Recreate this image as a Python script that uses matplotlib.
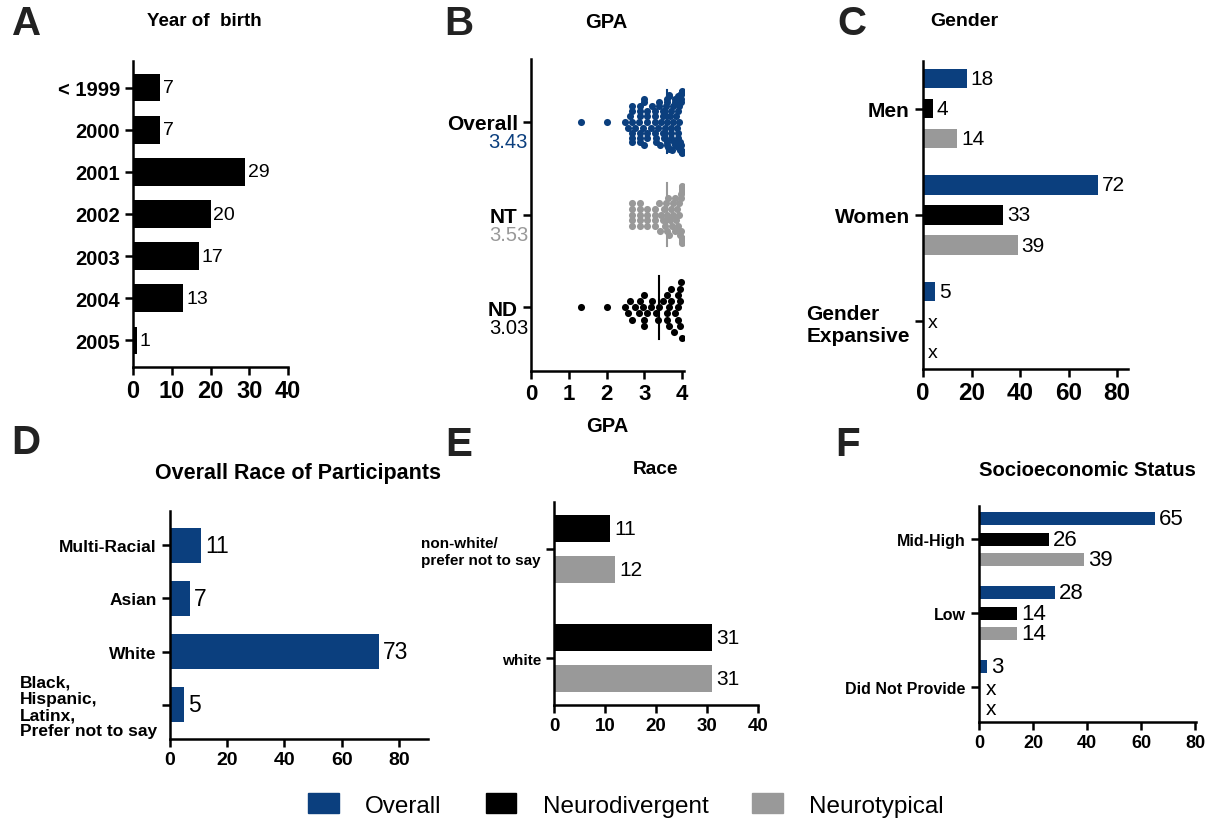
import numpy as np
import matplotlib.pyplot as plt
from matplotlib.patches import Patch

plt.rcParams['font.family'] = ['Liberation Sans', 'DejaVu Sans']

W, H = 1207, 820
BLUE = '#0b3f7e'
GREY = '#999999'
BLACK = '#000000'

# A - year of birth
birth_years = ['< 1999', '2000', '2001', '2002', '2003', '2004', '2005']
birth_counts = [7, 7, 29, 20, 17, 13, 1]

# B - GPA
gpa_groups = ['Overall', 'NT', 'ND']
gpa_means = ['3.43', '3.53', '3.03']
gpa_nd = [3.64, 3.97, 3.0, 3.64, 3.81, 3.99, 2.62, 3.0, 3.3, 3.6, 3.88,
          1.32, 2.0, 2.49, 2.67, 2.87, 3.08, 3.5, 3.71, 3.95,
          2.89, 3.2, 3.37, 3.6, 3.88, 2.56, 2.75, 2.96, 3.17, 3.4, 3.6,
          3.79, 3.95, 3.0, 3.9, 3.71, 3.95]
gpa_nt = [2.67, 2.67, 2.67, 2.67, 2.67, 2.89, 2.89, 2.89, 2.89, 2.89,
          3.08, 3.08, 3.08, 3.08, 3.28, 3.28, 3.28, 3.28,
          3.38, 3.42, 3.45, 3.5, 3.52, 3.55, 3.58, 3.6, 3.61,
          3.63, 3.65, 3.67, 3.7, 3.72, 3.75, 3.77, 3.8, 3.82, 3.85, 3.87, 3.9, 3.92,
          3.93, 3.95, 3.96, 3.97, 3.98, 3.99, 4.0, 4.0, 4.0, 4.0, 4.0, 4.0, 4.0]
gpa_other = [3.3, 3.5, 3.7, 3.9, 4.0]
gpa_overall = gpa_nd + gpa_nt + gpa_other

# C - gender
gender_cats = ['Men', 'Women', 'Gender\nExpansive']
gender_overall = [18, 72, 5]
gender_nd = [4, 33, None]
gender_nt = [14, 39, None]

# D - overall race
race_cats = ['Multi-Racial', 'Asian', 'White', 'Black,\nHispanic,\nLatinx,\nPrefer not to say']
race_counts = [11, 7, 73, 5]

# E - race by group
race2_cats = ['non-white/\nprefer not to say', 'white']
race2_nd = [11, 31]
race2_nt = [12, 31]

# F - socioeconomic status
ses_cats = ['Mid-High', 'Low', 'Did Not Provide']
ses_overall = [65, 28, 3]
ses_nd = [26, 14, None]
ses_nt = [39, 14, None]


fig = plt.figure(figsize=(W / 100, H / 100), dpi=100)


def axes_px(l, t, r, b):
    return fig.add_axes([l / W, 1 - b / H, (r - l) / W, (b - t) / H])


def ftext(x, y, s, **kw):
    fig.text(x / W, 1 - y / H, s, ha='center', va='center', **kw)


def style(ax, xticks, xfs, yfs, lw=1.8):
    for s in ['top', 'right']:
        ax.spines[s].set_visible(False)
    for s in ['left', 'bottom']:
        ax.spines[s].set_linewidth(lw)
    ax.tick_params(axis='both', direction='out', length=6, width=lw)
    ax.tick_params(axis='x', pad=3)
    ax.set_xticks(xticks, [str(t) for t in xticks], fontweight='bold', fontsize=xfs)
    for lab in ax.get_yticklabels():
        lab.set_fontweight('bold')
        lab.set_fontsize(yfs)


def grouped(ax, series, colors, step, height, fs, pad, xpad):
    n = len(series)
    for j, (vals, col) in enumerate(zip(series, colors)):
        off = (j - (n - 1) / 2) * step
        for i, v in enumerate(vals):
            y = i + off
            if v is None:
                ax.annotate('x', (0, y), xytext=(xpad, -1), textcoords='offset pixels',
                            ha='center', va='center', fontsize=fs - 1)
            else:
                ax.barh(y, v, height=height, color=col)
                ax.annotate(str(v), (v, y), xytext=(pad, 0), textcoords='offset pixels',
                            ha='left', va='center', fontsize=fs)


def swarm(values, xscale, diam, maxw):
    # simple beeswarm in pixel units, squeezed to fit +-maxw
    vals = np.sort(np.asarray(values, float))
    placed = []
    for v in vals:
        x = v * xscale
        k = 0
        done = False
        while not done:
            cands = [0.0] if k == 0 else [k * diam, -k * diam]
            for c in cands:
                if all((x - a) ** 2 + (c - b) ** 2 >= diam ** 2 * 0.98 for a, b in placed):
                    placed.append((x, c))
                    done = True
                    break
            k += 1
    offs = np.array([b for a, b in placed])
    m = np.abs(offs).max()
    if m > 1.3 * maxw:
        offs = maxw * np.tanh(offs / maxw)
    elif m > maxw:
        offs = offs * maxw / m
    return vals, offs


# ---- A
ax = axes_px(133, 62, 288, 368)
ax.barh(range(len(birth_years)), birth_counts, height=0.66, color=BLACK)
for i, v in enumerate(birth_counts):
    ax.annotate(str(v), (v, i), xytext=(3, 0), textcoords='offset pixels',
                ha='left', va='center', fontsize=14)
ax.set_yticks(range(len(birth_years)), birth_years)
ax.set_xlim(0, 40)
ax.set_ylim(6.63, -0.63)
style(ax, [0, 10, 20, 30, 40], 17, 14.5)

# ---- B
ax = axes_px(531, 60, 684, 372)
xscale = 153 / 4.05
yscale = 92.5
groups = zip([gpa_overall, gpa_nt, gpa_nd], [BLUE, GREY, BLACK], [6.0, 6.0, 7.8])
for i, (vals, col, d) in enumerate(groups):
    xs, offs = swarm(vals, xscale, d, 31)
    ax.scatter(xs, i + offs / yscale, s=26, color=col, linewidths=0, zorder=3)
    med = np.median(vals)
    ax.plot([med, med], [i - 0.34, i + 0.34], color=col, lw=1.5, zorder=2)
ax.set_yticks(range(3), gpa_groups)
for i, (m, col) in enumerate(zip(gpa_means, [BLUE, GREY, BLACK])):
    ax.annotate(m, (0, i), xytext=(-3, -20), textcoords='offset pixels',
                ha='right', va='center', fontsize=14.5, color=col)
ax.set_xlim(0, 4.05)
ax.set_ylim(2.69, -0.68)
style(ax, [0, 1, 2, 3, 4], 16, 15)
ax.set_xlabel('GPA', fontweight='bold', fontsize=14.5, labelpad=8)

# ---- C
ax = axes_px(923, 62, 1128, 370)
grouped(ax, [gender_overall, gender_nd, gender_nt], [BLUE, BLACK, GREY],
        0.283, 0.18, 15, 4, 10)
ax.set_yticks(range(3), gender_cats)
ax.set_xlim(0, 84.5)
ax.set_ylim(2.45, -0.45)
style(ax, [0, 20, 40, 60, 80], 17.5, 15)
ax.get_yticklabels()[2].set_multialignment('left')

# ---- D
ax = axes_px(170, 512, 428, 740)
ax.barh(range(len(race_cats)), race_counts, height=0.66, color=BLUE)
for i, v in enumerate(race_counts):
    ax.annotate(str(v), (v, i), xytext=(4, 0), textcoords='offset pixels',
                ha='left', va='center', fontsize=16.5)
ax.set_yticks(range(len(race_cats)), race_cats)
ax.set_xlim(0, 90.2)
ax.set_ylim(3.65, -0.65)
style(ax, [0, 20, 40, 60, 80], 14, 12.5)
lab = ax.get_yticklabels()[3]
lab.set_multialignment('left')
lab.set_linespacing(1.1)

# ---- E
ax = axes_px(554, 503, 758, 706)
grouped(ax, [race2_nd, race2_nt], [BLACK, GREY], 0.376, 0.24, 15, 4, 10)
ax.set_yticks(range(2), race2_cats)
ax.set_xlim(0, 40)
ax.set_ylim(1.43, -0.43)
style(ax, [0, 10, 20, 30, 40], 13.5, 11)
ax.get_yticklabels()[0].set_multialignment('left')

# ---- F
ax = axes_px(979, 507, 1196, 723)
grouped(ax, [ses_overall, ses_nd, ses_nt], [BLUE, BLACK, GREY],
        0.277, 0.18, 16, 4, 12)
ax.set_yticks(range(3), ses_cats)
ax.set_xlim(0, 80.3)
ax.set_ylim(2.47, -0.45)
style(ax, [0, 20, 40, 60, 80], 13, 11.5)

# titles and panel letters
ftext(204, 22, 'Year of  birth', fontweight='bold', fontsize=13.5)
ftext(606, 22, 'GPA', fontweight='bold', fontsize=14.5)
ftext(964, 22, 'Gender', fontweight='bold', fontsize=14)
ftext(298, 474, 'Overall Race of Participants', fontweight='bold', fontsize=15.5)
ftext(656, 470, 'Race', fontweight='bold', fontsize=13.8)
ftext(1087, 471, 'Socioeconomic Status', fontweight='bold', fontsize=14.6)
for x, y, s in [(27, 24, 'A'), (459, 24, 'B'), (852, 24, 'C'),
                (26, 443, 'D'), (459, 445, 'E'), (848, 445, 'F')]:
    ftext(x, y, s, fontweight='bold', fontsize=29, color='#222222')

handles = [Patch(color=BLUE), Patch(color=BLACK), Patch(color=GREY)]
fig.legend(handles, ['Overall', 'Neurodivergent', 'Neurotypical'], loc='center',
           bbox_to_anchor=(626 / W, 1 - 806 / H), ncol=3, frameon=False,
           fontsize=17.5, handlelength=1.25, handleheight=0.9,
           handletextpad=1.1, columnspacing=1.8)

fig.savefig('out.png', dpi=100)
